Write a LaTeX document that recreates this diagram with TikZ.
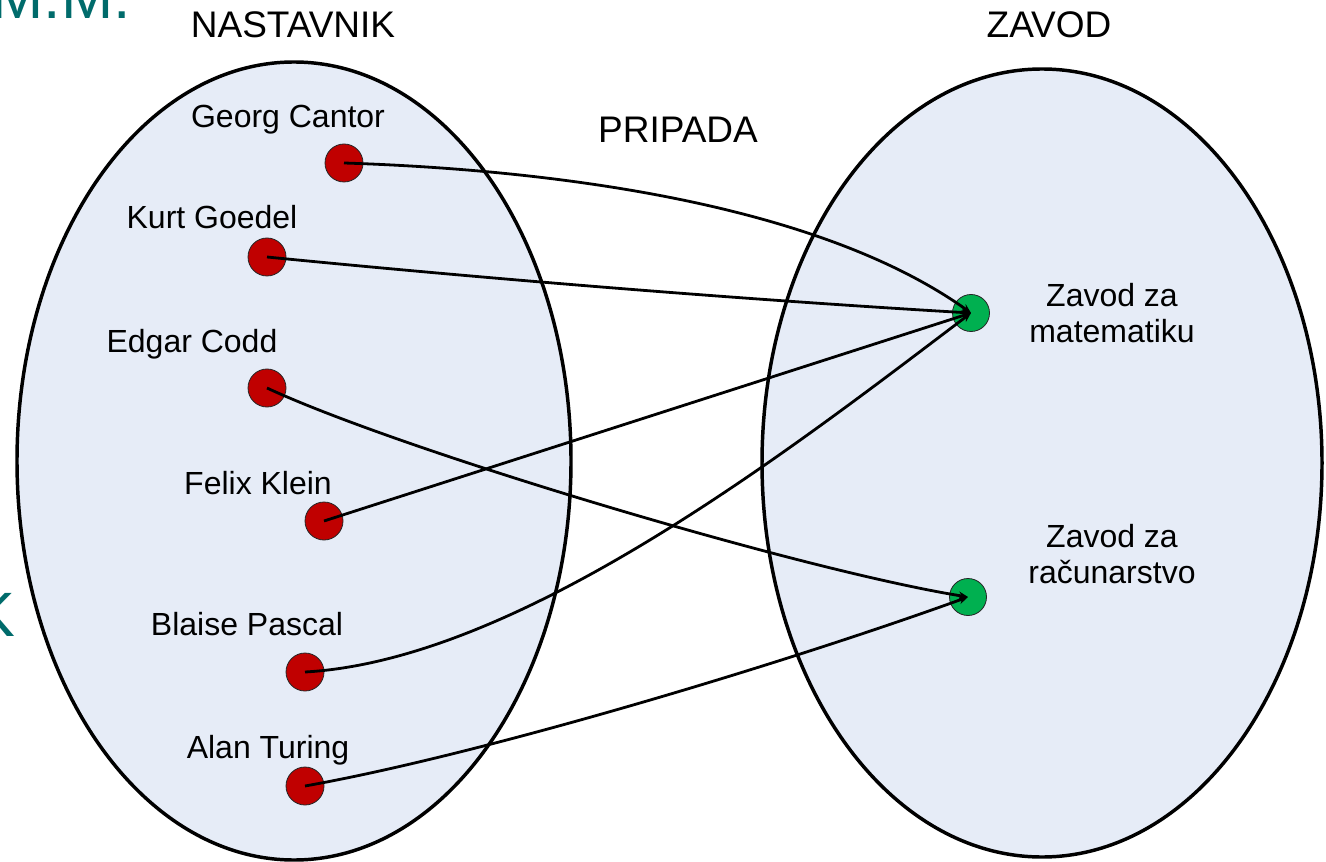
\documentclass[tikz,border=0pt]{standalone}
\usepackage{fontspec}
\setmainfont{Liberation Sans}
\usetikzlibrary{arrows.meta}
\definecolor{setfill}{HTML}{E6ECF7}
\definecolor{dotred}{HTML}{C00000}
\definecolor{dotgreen}{HTML}{00B050}
\definecolor{slideteal}{HTML}{006B6B}
\begin{document}
\begin{tikzpicture}[x=0.75pt,y=-0.75pt,
  setline/.style={draw=black, line width=2.6pt, fill=setfill},
  head/.style={font=\fontsize{27.75}{33}\selectfont, anchor=base, inner sep=0pt},
  lbl/.style={font=\fontsize{24}{27}\selectfont, anchor=base, inner sep=0pt, align=center},
  bgtext/.style={font=\fontsize{47}{56}\selectfont, text=slideteal, inner sep=0pt, anchor=base east},
  reddot/.style={circle, draw=black!85, line width=0.6pt, fill=dotred, minimum size=28.5pt, inner sep=0pt},
  greendot/.style={circle, draw=black!85, line width=0.6pt, fill=dotgreen, minimum size=27.75pt, inner sep=0pt},
  link/.style={line width=2.1pt, -{Stealth[length=7pt,width=6pt]}}]
\useasboundingbox (0,0) rectangle (1326,862);
\begin{scope}
\clip (0,0) rectangle (1326,862);
% slide text behind the diagram
\node[bgtext] (mm) at (131,19) {M.M.};
\node[bgtext] (kk) at (16,636) {K};
% the two sets
\draw[setline] (294,461) ellipse [x radius=207.75pt, y radius=299.25pt];
\draw[setline] (1042,463) ellipse [x radius=210pt, y radius=295.5pt];
% headings
\node[head] (hn) at (293,38) {NASTAVNIK};
\node[head] (hz) at (1049,38) {ZAVOD};
\node[head] (hp) at (678,143) {PRIPADA};
% element labels
\node[lbl] (lgc) at (288,128) {Georg Cantor};
\node[lbl] (lkg) at (212,229) {Kurt Goedel};
\node[lbl] (lec) at (192,353) {Edgar Codd};
\node[lbl] (lfk) at (258,494) {Felix Klein};
\node[lbl] (lbp) at (247,635) {Blaise Pascal};
\node[lbl] (lat) at (268,758) {Alan Turing};
\node[lbl] (lzm) at (1112,343) {Zavod za\\matematiku};
\node[lbl] (lzr) at (1112,583) {Zavod za\\računarstvo};
% elements
\node[reddot] (gc) at (344,163) {};
\node[reddot] (kg) at (267,257) {};
\node[reddot] (ec) at (267,388) {};
\node[reddot] (fk) at (324,521) {};
\node[reddot] (bp) at (305,672) {};
\node[reddot] (at) at (305,786) {};
\node[greendot] (zm) at (971,313) {};
\node[greendot] (zr) at (968,597) {};
% relation
\draw[link] (gc.center) .. controls (560,170) and (820,205) .. (zm.center);
\draw[link] (kg.center) .. controls (500,280) and (750,300) .. (zm.center);
\draw[link] (ec.center) .. controls (400,450) and (800,570) .. (zr.center);
\draw[link] (fk.center) -- (zm.center);
\draw[link] (bp.center) .. controls (520,660) and (790,450) .. (zm.center);
\draw[link] (at.center) .. controls (480,755) and (780,665) .. (zr.center);
\end{scope}
\end{tikzpicture}
\end{document}
